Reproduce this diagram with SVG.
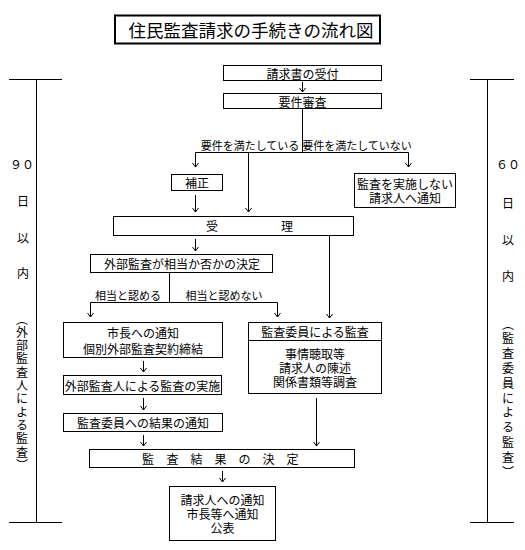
<svg xmlns="http://www.w3.org/2000/svg" width="525" height="550" viewBox="0 0 525 550">
<defs>
<marker id="ah" viewBox="-6 -5 8 10" refX="0" refY="0" markerWidth="8" markerHeight="10" markerUnits="userSpaceOnUse" orient="auto">
<path d="M-4,-3 L0,0 L-4,3" fill="none" stroke="#000" stroke-width="1"/>
</marker>
<style>
text{font-family:"Noto Sans CJK JP","Noto Sans CJK SC",sans-serif;fill:#000;font-size:12px;dominant-baseline:central;text-anchor:middle}
.box{fill:#fff;stroke:#000;stroke-width:1}
.ln{fill:none;stroke:#000;stroke-width:1}
.ar{fill:none;stroke:#000;stroke-width:1;marker-end:url(#ah)}
.lbl{font-size:11px}
.vt{writing-mode:vertical-rl;text-anchor:start;dominant-baseline:central}
</style>
</defs>
<rect width="525" height="550" fill="#fff"/>

<g id="title">
<rect x="115" y="15.5" width="265" height="28" fill="#fff" stroke="#000" stroke-width="2"/>
<text x="251" y="29.5" style="font-size:17.5px">住民監査請求の手続きの流れ図</text>
</g>

<g id="connectors">
<line class="ar" x1="302.5" y1="82" x2="302.5" y2="92"/>
<polyline class="ln" points="302.5,108 302.5,152.5"/>
<line class="ln" x1="195.5" y1="152.5" x2="408.5" y2="152.5"/>
<line class="ar" x1="195.5" y1="152.5" x2="195.5" y2="167"/>
<line class="ar" x1="248.5" y1="152.5" x2="248.5" y2="212"/>
<line class="ar" x1="408.5" y1="152.5" x2="408.5" y2="167"/>
<line class="ar" x1="195.5" y1="195" x2="195.5" y2="212"/>
<line class="ar" x1="195.5" y1="239" x2="195.5" y2="251"/>
<line class="ar" x1="329.5" y1="235" x2="329.5" y2="318"/>
<line class="ln" x1="169.5" y1="272" x2="169.5" y2="302.5"/>
<line class="ln" x1="90.5" y1="302.5" x2="277.5" y2="302.5"/>
<line class="ar" x1="90.5" y1="302.5" x2="90.5" y2="317"/>
<line class="ar" x1="277.5" y1="302.5" x2="277.5" y2="317"/>
<line class="ar" x1="143.5" y1="361" x2="143.5" y2="372"/>
<line class="ar" x1="143.5" y1="398" x2="143.5" y2="410"/>
<line class="ar" x1="143.5" y1="435" x2="143.5" y2="446"/>
<line class="ar" x1="316.5" y1="398" x2="316.5" y2="446"/>
<line class="ar" x1="222.5" y1="471" x2="222.5" y2="482"/>
<text class="lbl" x="250" y="145">要件を満たしている</text>
<text class="lbl" x="357" y="145">要件を満たしていない</text>
<text class="lbl" x="128" y="295">相当と認める</text>
<text class="lbl" x="224" y="295">相当と認めない</text>
</g>

<g id="n1"><rect class="box" x="223.5" y="65.5" width="158" height="15"/><text x="302.5" y="73">請求書の受付</text></g>
<g id="n2"><rect class="box" x="223.5" y="93.5" width="158" height="15"/><text x="302.5" y="101">要件審査</text></g>
<g id="n3"><rect class="box" x="171.5" y="174.5" width="51" height="16"/><text x="197" y="182.5">補正</text></g>
<g id="n4"><rect class="box" x="354.5" y="173.5" width="101" height="34"/><text x="405" y="183.5">監査を実施しない</text><text x="405" y="197.5">請求人へ通知</text></g>
<g id="n5"><rect class="box" x="113.5" y="216.5" width="240" height="19"/><text x="212" y="225.5">受</text><text x="287" y="225.5">理</text></g>
<g id="n6"><rect class="box" x="90.5" y="254.5" width="182" height="18"/><text x="182" y="263.5">外部監査が相当か否かの決定</text></g>
<g id="n7"><rect class="box" x="63.5" y="322.5" width="159" height="35"/><text x="143" y="332.5">市長への通知</text><text x="143" y="348.5">個別外部監査契約締結</text></g>
<g id="n8"><rect class="box" x="248.5" y="322.5" width="133" height="71"/><line class="ln" x1="248.5" y1="340.5" x2="381.5" y2="340.5"/><text x="315" y="331.5">監査委員による監査</text><text x="315" y="353">事情聴取等</text><text x="315" y="367">請求人の陳述</text><text x="315" y="381">関係書類等調査</text></g>
<g id="n9"><rect class="box" x="63.5" y="375.5" width="158" height="19"/><text x="142.5" y="385">外部監査人による監査の実施</text></g>
<g id="n10"><rect class="box" x="63.5" y="413.5" width="159" height="18"/><text x="143" y="422.5">監査委員への結果の通知</text></g>
<g id="n11"><rect class="box" x="89.5" y="449.5" width="265" height="18"/><text x="148 172.5 196.5 220.5 244.5 268.5 292.5" y="458.5">監査結果の決定</text></g>
<g id="n12"><rect class="box" x="169.5" y="486.5" width="106" height="54"/><text x="222.5" y="499">請求人への通知</text><text x="222.5" y="513">市長等へ通知</text><text x="222.5" y="527">公表</text></g>

<g id="left-period">
<line class="ln" x1="9" y1="79.5" x2="62" y2="79.5"/>
<line class="ln" x1="36.5" y1="79.5" x2="36.5" y2="522.5"/>
<line class="ln" x1="9" y1="522.5" x2="62" y2="522.5"/>
<text x="22" y="163">９０</text>
<text x="23" y="200">日</text>
<text x="23" y="237">以</text>
<text x="23" y="272">内</text>
<text class="vt" x="22" y="313" style="letter-spacing:1.3px">（外部監査人による監査）</text>
</g>

<g id="right-period">
<line class="ln" x1="470" y1="79.5" x2="514" y2="79.5"/>
<line class="ln" x1="487.5" y1="79.5" x2="487.5" y2="522.5"/>
<line class="ln" x1="470" y1="522.5" x2="514" y2="522.5"/>
<text x="508" y="163">６０</text>
<text x="508" y="202">日</text>
<text x="508" y="239">以</text>
<text x="508" y="275">内</text>
<text class="vt" x="508" y="318" style="letter-spacing:2.8px">（監査委員による監査）</text>
</g>
</svg>
